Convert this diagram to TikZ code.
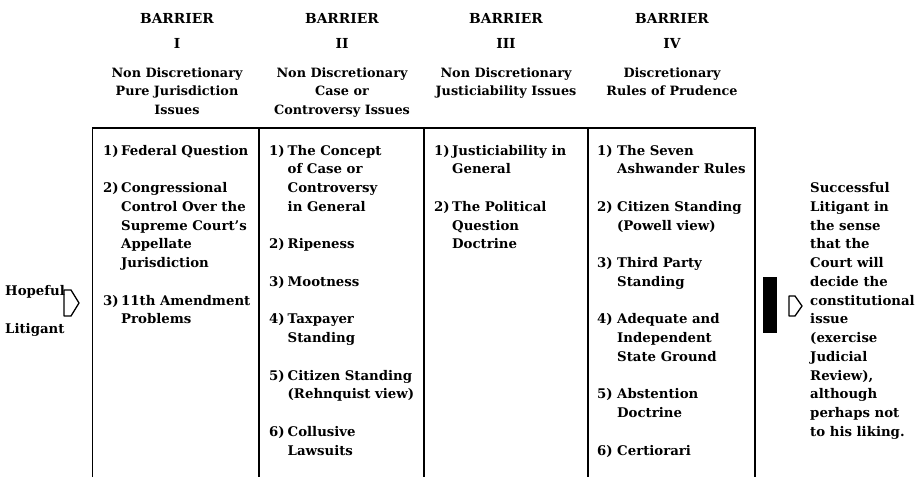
\documentclass[tikz,border=0pt]{standalone}
\usepackage{fontspec}
\setmainfont{DejaVu Serif}
\begin{document}
\begin{tikzpicture}[x=1pt,y=-1pt,
  txt/.style={inner sep=0pt,anchor=base west,font=\fontsize{13.3}{15}\selectfont\bfseries},
  hdr/.style={inner sep=0pt,anchor=base,font=\fontsize{12.8}{15}\selectfont\bfseries},
  bighdr/.style={hdr,font=\fontsize{13.8}{16}\selectfont\bfseries},
  rule/.style={line width=1.7pt},
  openarrow/.style={line width=1.3pt,line join=round}]
\useasboundingbox (0,0) rectangle (918,477);
% headers
\foreach \c/\x/\r in {1/177/I,2/342/II,3/506/III,4/672/IV}{
  \node[bighdr] (h\c a) at (\x,23) {BARRIER};
  \node[bighdr] (h\c b) at (\x,48) {\r};
}
\node[hdr] (h1c) at (177,77) {Non Discretionary};
\node[hdr] (h1d) at (177,95.5) {Pure Jurisdiction};
\node[hdr] (h1e) at (177,114) {Issues};
\node[hdr] (h2c) at (342,77) {Non Discretionary};
\node[hdr] (h2d) at (342,95.5) {Case or};
\node[hdr] (h2e) at (342,114) {Controversy Issues};
\node[hdr] (h3c) at (506,77) {Non Discretionary};
\node[hdr] (h3d) at (506,95.5) {Justiciability Issues};
\node[hdr] (h4c) at (672,77) {Discretionary};
\node[hdr] (h4d) at (672,95.5) {Rules of Prudence};
% box
\draw[rule] (92.5,477) -- (92.5,128) -- (755,128) -- (755,477);
\foreach \x in {259,424,588}{\draw[rule] (\x,128) -- (\x,477);}
% column I
\foreach \k/\n/\t in {0/1)/Federal Question,2/2)/Congressional,3//Control Over the,4//Supreme Court's,5//Appellate,6//Jurisdiction,8/3)/11th Amendment,9//Problems}{
  \node[txt] (a\k) at (121,155+18.75*\k) {\t};
  \node[txt] (an\k) at (103,155+18.75*\k) {\n};
}
% column II
\foreach \k/\n/\t in {0/1)/The Concept,1//of Case or,2//Controversy,3//in General,5/2)/Ripeness,7/3)/Mootness,9/4)/Taxpayer,10//Standing,12/5)/Citizen Standing,13//(Rehnquist view),15/6)/Collusive,16//Lawsuits}{
  \node[txt] (b\k) at (287.5,155+18.75*\k) {\t};
  \node[txt] (bn\k) at (269,155+18.75*\k) {\n};
}
% column III
\foreach \k/\n/\t in {0/1)/Justiciability in,1//General,3/2)/The Political,4//Question,5//Doctrine}{
  \node[txt] (c\k) at (452,155+18.75*\k) {\t};
  \node[txt] (cn\k) at (434,155+18.75*\k) {\n};
}
% column IV
\foreach \k/\n/\t in {0/1)/The Seven,1//Ashwander Rules,3/2)/Citizen Standing,4//(Powell view),6/3)/Third Party,7//Standing,9/4)/Adequate and,10//Independent,11//State Ground,13/5)/Abstention,14//Doctrine,16/6)/Certiorari}{
  \node[txt] (d\k) at (617,155+18.75*\k) {\t};
  \node[txt] (dn\k) at (597,155+18.75*\k) {\n};
}
% right text
\foreach \k/\t in {2/Successful,3/Litigant in,4/the sense,5/that the,6/Court will,7/decide the,8/constitutional,9/issue,10/(exercise,11/Judicial,12/{Review),},13/although,14/perhaps not,15/to his liking.}{
  \node[txt] (r\k) at (810,155+18.75*\k) {\t};
}
% left text
\node[txt] (hope) at (5,295) {Hopeful};
\node[txt] (lit) at (5,333) {Litigant};
% arrows
\draw[openarrow] (64,290) -- (71,290) -- (79,303) -- (71,316) -- (64,316) -- cycle;
\fill (763,277) rectangle (777,333);
\draw[openarrow] (789,296) -- (795,296) -- (802,306) -- (795,316) -- (789,316) -- cycle;
\end{tikzpicture}
\end{document}
